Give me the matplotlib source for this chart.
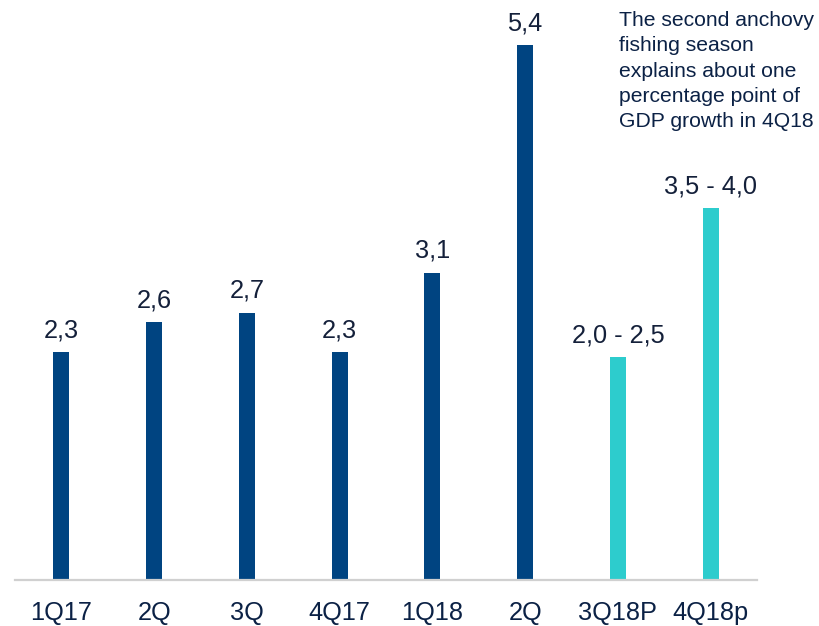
import matplotlib
matplotlib.use("Agg")
import matplotlib.pyplot as plt

plt.rcParams['font.family'] = ['Liberation Sans', 'DejaVu Sans']

categories = ["1Q17", "2Q", "3Q", "4Q17", "1Q18", "2Q", "3Q18P", "4Q18p"]
values = [2.3, 2.6, 2.7, 2.3, 3.1, 5.4, 2.25, 3.75]
value_labels = ["2,3", "2,6", "2,7", "2,3", "3,1", "5,4", "2,0 - 2,5", "3,5 - 4,0"]
is_forecast = [False, False, False, False, False, False, True, True]
note_lines = [
    "The second anchovy",
    "fishing season",
    "explains about one",
    "percentage point of",
    "GDP growth in 4Q18",
]

DARK_BLUE = "#004481"
AQUA = "#2DCCCD"
NAVY = "#0b2145"
LABEL = "#14203a"

W, H = 819, 626
fig = plt.figure(figsize=(W / 100, H / 100), dpi=100)
px_per_unit = 99.07
ymax = 5.8
ax = fig.add_axes([15 / W, 46 / H, 742 / W, ymax * px_per_unit / H])

x = list(range(len(categories)))
colors = [AQUA if f else DARK_BLUE for f in is_forecast]
bars = ax.bar(x, values, width=0.17, color=colors, zorder=2)

for xi, v, lab in zip(x, values, value_labels):
    ax.annotate(lab, (xi, v), xytext=(0, 10.8), textcoords="offset points",
                ha="center", va="baseline", fontsize=18.3, color=LABEL)

ax.set_xlim(-0.5, len(categories) - 0.5)
ax.set_ylim(0, ymax)
ax.set_xticks(x)
ax.set_xticklabels(categories, fontsize=18.3, color=NAVY)
ax.tick_params(axis="x", length=0, pad=15)
ax.set_yticks([])
for side in ("left", "right", "top"):
    ax.spines[side].set_visible(False)
ax.spines["bottom"].set_color("#d0d0d0")
ax.spines["bottom"].set_linewidth(1.6)

fig.text(619 / W, 1 - 11 / H, "\n".join(note_lines), ha="left", va="top",
         fontsize=15.2, color=NAVY, linespacing=1.42)

fig.savefig("out.png", dpi=100)
